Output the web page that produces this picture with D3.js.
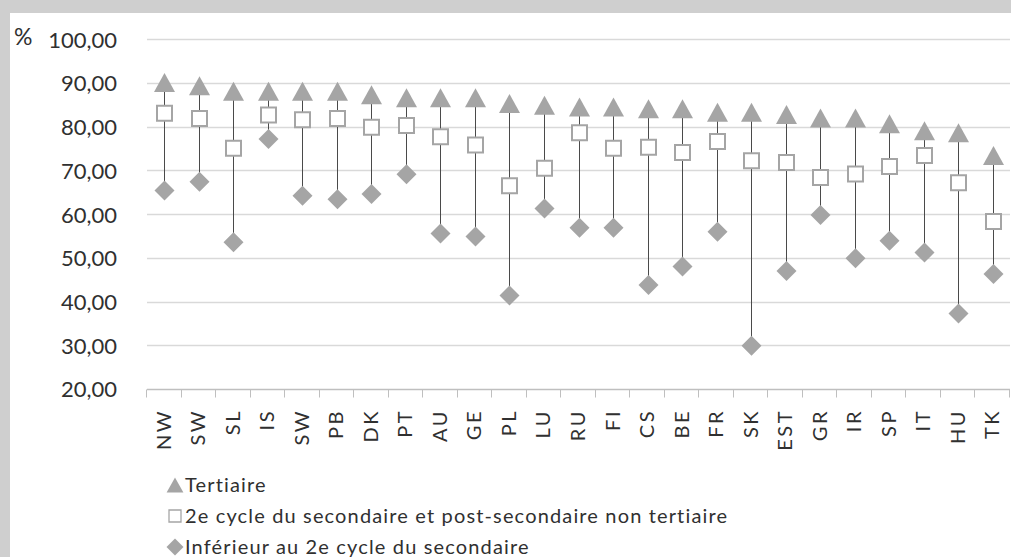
<!DOCTYPE html>
<html>
<head>
<meta charset="utf-8">
<script src="https://cdn.jsdelivr.net/npm/d3@7"></script>
<style>
  html, body { margin: 0; padding: 0; background: #cfcfcf; }
  svg { display: block; }
</style>
</head>
<body>
<svg id="chart" width="1011" height="557"></svg>
<script>
// Country codes along the x axis
const countries = ["NW","SW","SL","IS","SW","PB","DK","PT","AU","GE","PL","LU","RU","FI","CS","BE","FR","SK","EST","GR","IR","SP","IT","HU","TK"];

// Employment rate (%) by education level
const tertiaire = [90.1,89.4,88.1,88.1,88.1,88.1,87.3,86.6,86.6,86.6,85.3,84.9,84.5,84.5,84.1,84.1,83.3,83.3,82.8,82.0,82.0,80.7,79.1,78.6,73.4];
const secondaire2 = [83.1,81.9,75.1,82.7,81.6,81.9,79.9,80.3,77.7,75.8,66.5,70.5,78.6,75.1,75.3,74.1,76.6,72.2,71.8,68.4,69.2,70.9,73.4,67.2,58.3];
const inferieur = [65.4,67.4,53.6,77.2,64.2,63.4,64.6,69.1,55.6,54.9,41.4,61.3,56.9,56.9,43.8,48.0,56.0,29.9,47.0,59.8,49.9,53.9,51.2,37.3,46.3];

const yTicks = [20,30,40,50,60,70,80,90,100];
const legendLabels = [
  "Tertiaire",
  "2e cycle du secondaire et post-secondaire non tertiaire",
  "Inférieur au 2e cycle du secondaire"
];

const svg = d3.select("#chart");
const W = 1011, H = 557;
const grey = "#a5a5a5";
const textCol = "#303030";
const font = "Lato, 'Open Sans', sans-serif";

// white card on the grey page
svg.append("rect").attr("x", 10).attr("y", 13).attr("width", W - 10).attr("height", H - 13).attr("fill", "#ffffff");

const plot = { left: 147, right: 1010, top: 39.3, bottom: 389 };

const x = d3.scaleBand().domain(d3.range(countries.length)).range([plot.left, plot.right]).padding(0);
const y = d3.scaleLinear().domain([20, 100]).range([plot.bottom, plot.top]);

const fr = d3.formatLocale({ decimal: ",", thousands: " ", grouping: [3], currency: ["", " €"] });
const fmt = fr.format(".2f");

// horizontal gridlines
svg.append("g")
  .selectAll("line")
  .data(yTicks.filter(v => v > 20))
  .join("line")
  .attr("x1", plot.left).attr("x2", plot.right)
  .attr("y1", d => Math.round(y(d)) + 0.5).attr("y2", d => Math.round(y(d)) + 0.5)
  .attr("stroke", "#d9d9d9").attr("stroke-width", 1.3);

// y axis labels
const yAxis = d3.axisLeft(y).tickValues(yTicks).tickFormat(fmt).tickSize(0).tickPadding(0);
const gy = svg.append("g").attr("transform", `translate(117,0)`).call(yAxis);
gy.select(".domain").remove();
gy.selectAll("text")
  .attr("font-family", font).attr("font-size", 22).attr("fill", textCol)
  .attr("dy", "0.36em").attr("x", 0);

svg.append("text").attr("x", 14).attr("y", 45)
  .attr("font-family", font).attr("font-size", 23).attr("fill", textCol).text("%");

// x axis: baseline, ticks at category boundaries, rotated labels
const base = Math.round(y(20)) + 0.5;
svg.append("line").attr("x1", plot.left).attr("x2", plot.right)
  .attr("y1", base).attr("y2", base).attr("stroke", "#bfbfbf").attr("stroke-width", 1.3);
const bounds = d3.range(countries.length + 1).map(i => i < countries.length ? x(i) : plot.right);
svg.append("g").selectAll("line").data(bounds).join("line")
  .attr("x1", d => Math.round(d) - 0.5).attr("x2", d => Math.round(d) - 0.5)
  .attr("y1", base).attr("y2", base + 8)
  .attr("stroke", "#bfbfbf").attr("stroke-width", 1);

svg.append("g").selectAll("text").data(countries).join("text")
  .attr("transform", (d, i) => `translate(${x(i) + x.bandwidth() / 2 + 6.5},409) rotate(-90)`)
  .attr("text-anchor", "end")
  .attr("font-family", font).attr("font-size", 20).attr("letter-spacing", "2.5px")
  .attr("fill", textCol)
  .text(d => d);

// marker shapes centred on their bounding box
const triShape = { draw(ctx) { ctx.moveTo(0, -9.5); ctx.lineTo(10.5, 9.5); ctx.lineTo(-10.5, 9.5); ctx.closePath(); } };
const diaShape = { draw(ctx) { ctx.moveTo(0, -10); ctx.lineTo(10, 0); ctx.lineTo(0, 10); ctx.lineTo(-10, 0); ctx.closePath(); } };
const sqShape = { draw(ctx) { ctx.rect(-7.5, -7.5, 15, 15); } };

const cx = i => Math.round(x(i) + x.bandwidth() / 2) + 0.5;

// high-low lines
svg.append("g").selectAll("line").data(countries).join("line")
  .attr("x1", (d, i) => cx(i)).attr("x2", (d, i) => cx(i))
  .attr("y1", (d, i) => y(Math.max(tertiaire[i], secondaire2[i], inferieur[i])))
  .attr("y2", (d, i) => y(Math.min(tertiaire[i], secondaire2[i], inferieur[i])))
  .attr("stroke", "#4a4a4a").attr("stroke-width", 1);

// series markers
svg.append("g").selectAll("path").data(inferieur).join("path")
  .attr("transform", (d, i) => `translate(${cx(i)},${y(d)})`)
  .attr("d", d3.symbol(diaShape)()).attr("fill", grey);

svg.append("g").selectAll("path").data(secondaire2).join("path")
  .attr("transform", (d, i) => `translate(${cx(i)},${y(d)})`)
  .attr("d", d3.symbol(sqShape)()).attr("fill", "#ffffff").attr("stroke", grey).attr("stroke-width", 2);

svg.append("g").selectAll("path").data(tertiaire).join("path")
  .attr("transform", (d, i) => `translate(${cx(i)},${y(d)})`)
  .attr("d", d3.symbol(triShape)()).attr("fill", grey);

// legend
const legendShapes = [
  { shape: d3.symbol(triShape)(), fill: grey, stroke: "none", scale: 0.8 },
  { shape: d3.symbol(sqShape)(), fill: "#ffffff", stroke: grey, scale: 0.8 },
  { shape: d3.symbol(diaShape)(), fill: grey, stroke: "none", scale: 0.85 }
];
const lg = svg.append("g").selectAll("g").data(legendLabels).join("g")
  .attr("transform", (d, i) => `translate(175,${485 + i * 31})`);
lg.append("path")
  .attr("d", (d, i) => legendShapes[i].shape)
  .attr("transform", (d, i) => `scale(${legendShapes[i].scale})`)
  .attr("fill", (d, i) => legendShapes[i].fill)
  .attr("stroke", (d, i) => legendShapes[i].stroke)
  .attr("stroke-width", 1.6);
lg.append("text")
  .attr("x", 10).attr("dy", "0.36em")
  .attr("font-family", font).attr("font-size", 20).attr("letter-spacing", "1.15px")
  .attr("fill", textCol)
  .text(d => d);
</script>
</body>
</html>
